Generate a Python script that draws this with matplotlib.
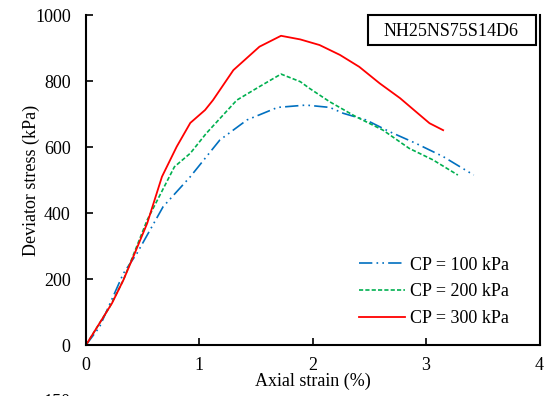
import matplotlib
matplotlib.use('Agg')
import matplotlib.pyplot as plt
from matplotlib.patches import Rectangle

plt.rcParams['font.family'] = ['Liberation Serif', 'DejaVu Serif']
plt.rcParams['font.size'] = 13

# CP = 100 kPa
strain_100 = [0, 0.12, 0.33, 0.45, 0.68, 0.92, 1.18, 1.42, 1.69, 1.94, 2.15, 2.27, 2.47, 2.68, 2.91, 3.15, 3.42]
stress_100 = [0, 55, 217, 278, 419, 510, 621, 682, 720, 727, 720, 702, 682, 646, 611, 571, 515]

# CP = 200 kPa
strain_200 = [0, 0.21, 0.33, 0.54, 0.78, 0.92, 1.06, 1.33, 1.53, 1.72, 1.89, 1.97, 2.15, 2.38, 2.62, 2.85, 3.06, 3.28]
stress_200 = [0, 116, 197, 379, 540, 581, 641, 742, 783, 821, 798, 778, 737, 692, 651, 596, 561, 515]

# CP = 300 kPa
strain_300 = [0, 0.23, 0.33, 0.43, 0.54, 0.67, 0.80, 0.92, 1.05, 1.12, 1.30, 1.53, 1.72, 1.89, 2.06, 2.24, 2.41,
              2.59, 2.77, 2.91, 3.03, 3.15]
stress_300 = [0, 127, 197, 278, 369, 510, 601, 673, 712, 742, 833, 904, 937, 926, 909, 879, 843,
              793, 748, 707, 672, 651]

labels = ['CP = 100 kPa', 'CP = 200 kPa', 'CP = 300 kPa']
sample_name = 'NH25NS75S14D6'

fig = plt.figure(figsize=(5.44, 3.96), dpi=100)
ax = fig.add_axes([86 / 544, 51 / 396, 453.5 / 544, 330 / 396])

ax.plot(strain_100, stress_100, color='#0070C0', lw=1.2, dashes=(8, 2.5, 1, 2.5, 1, 2.5), label=labels[0])
ax.plot(strain_200, stress_200, color='#00B050', lw=1.2, dashes=(2.5, 1.3), label=labels[1])
ax.plot(strain_300, stress_300, color='#FF0000', lw=1.3, label=labels[2])

ax.set_xlim(0, 4)
ax.set_ylim(0, 1000)
ax.set_xticks([0, 1, 2, 3, 4])
ax.set_yticks([0, 200, 400, 600, 800, 1000])
ax.tick_params(direction='in', length=5, width=1.2, labelsize=13)
ax.tick_params(axis='x', pad=9)
ax.tick_params(axis='y', pad=11)
ax.spines['top'].set_visible(False)
for s in ['left', 'bottom', 'right']:
    ax.spines[s].set_linewidth(1.5)

ax.set_xlabel('Axial strain (%)', fontsize=13)
ax.set_ylabel('Deviator stress (kPa)', fontsize=13)
ax.xaxis.set_label_coords(0.5, -0.085)
ax.yaxis.set_label_coords(-0.101, 0.5)

# sample name box
fig.patches.append(Rectangle((368 / 544, (396 - 45) / 396), 168 / 544, 30 / 396,
                             transform=fig.transFigure, fill=False, lw=1.5, ec='black'))
fig.text(451 / 544, (396 - 31) / 396, sample_name, ha='center', va='center', fontsize=13)

ax.legend(loc='center left', bbox_to_anchor=(359 / 544, (396 - 292) / 396), bbox_transform=fig.transFigure,
          frameon=False, handlelength=2.55, handletextpad=0.28, labelspacing=0.55, borderpad=0, borderaxespad=0)

# clipped label from chart below
fig.text(70 / 544, 2 / 396, '150', ha='right', va='top', fontsize=13)

fig.savefig('out.png', dpi=100)
